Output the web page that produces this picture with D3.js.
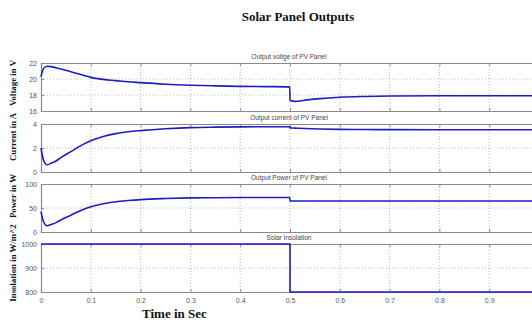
<!DOCTYPE html>
<html>
<head>
<meta charset="utf-8">
<script src="https://cdn.jsdelivr.net/npm/d3@7"></script>
<style>
  html, body { margin: 0; padding: 0; background: #fff; }
  svg { display: block; }
</style>
</head>
<body>
<svg id="chart" width="532" height="320"></svg>
<script>
// Simulation time samples (s)
const time = [0, 0.005, 0.012, 0.02, 0.03, 0.04, 0.06, 0.08, 0.1, 0.125, 0.15, 0.175, 0.2,
  0.25, 0.3, 0.35, 0.4, 0.45, 0.4995, 0.5, 0.51, 0.53, 0.56, 0.6, 0.65, 0.7, 0.8, 0.9, 1.0];

// PV panel output voltage (V)
const voltage = [20.3, 21.3, 21.6, 21.55, 21.4, 21.25, 20.9, 20.55, 20.2, 19.95, 19.8, 19.65, 19.55,
  19.35, 19.22, 19.14, 19.08, 19.05, 19.02, 17.3, 17.2, 17.35, 17.55, 17.72, 17.82, 17.87, 17.9, 17.9, 17.9];

// PV panel output current (A)
const current = [2.0, 1.0, 0.6, 0.72, 0.92, 1.2, 1.7, 2.2, 2.6, 2.95, 3.2, 3.35, 3.45,
  3.6, 3.7, 3.74, 3.76, 3.77, 3.77, 3.68, 3.66, 3.62, 3.58, 3.55, 3.54, 3.53, 3.52, 3.52, 3.52];

// PV panel output power (W)
const power = [42, 22, 13, 15.5, 19.5, 25, 35, 45, 52.5, 59, 63, 65.5, 67.5,
  69.7, 71, 71.5, 71.8, 71.9, 72, 64.5, 64.5, 64.5, 64.5, 64.5, 64.5, 64.5, 64.5, 64.5, 64.5];

// Solar insolation step (W/m^2)
const insolTime = [0, 0.5, 0.5, 1.0];
const insolation = [1000, 1000, 800, 800];

// Tick values (the 1.0 tick sits beyond the visible area)
const xTicks = [0, 0.1, 0.2, 0.3, 0.4, 0.5, 0.6, 0.7, 0.8, 0.9];
const xTickLabels = ["0", "0.1", "0.2", "0.3", "0.4", "0.5", "0.6", "0.7", "0.8", "0.9"];

const panels = [
  { title: "Output voltge of PV Panel", ylabel: "Voltage in V", domain: [16, 22], ticks: [16, 18, 20, 22], xs: time, ys: voltage },
  { title: "Output current of PV Panel", ylabel: "Current in A", domain: [0, 4], ticks: [0, 2, 4], xs: time, ys: current },
  { title: "Output Power of PV Panel", ylabel: "Power in W", domain: [0, 100], ticks: [0, 50, 100], xs: time, ys: power },
  { title: "Solar Insolation", ylabel: "Insolation in W/m^2", domain: [800, 1000], ticks: [800, 900, 1000], xs: insolTime, ys: insolation }
];

// Layout
const plotLeft = 41, plotRight = 539;
const panelTops = [63, 124, 184, 244];
const panelH = 48;
const labelCenters = [83, 137, 196, 263];
const lineColor = "#1d1dc6";
const frameColor = "#8a8a8a";
const gridColor = "#a8a8a8";

const svg = d3.select("#chart");

svg.append("text")
  .attr("x", 298).attr("y", 21)
  .attr("text-anchor", "middle")
  .attr("font-family", "Liberation Serif, Times New Roman, serif")
  .attr("font-weight", "bold")
  .attr("font-size", 13)
  .attr("fill", "#111")
  .text("Solar Panel Outputs");

const x = d3.scaleLinear().domain([0, 1]).range([plotLeft, plotRight]);

panels.forEach((p, i) => {
  const top = panelTops[i], bottom = top + panelH;
  const y = d3.scaleLinear().domain(p.domain).range([bottom, top]);
  const g = svg.append("g");

  // dotted grid
  g.append("g").selectAll("line")
    .data(xTicks.filter(t => t > 0))
    .join("line")
    .attr("x1", d => x(d)).attr("x2", d => x(d))
    .attr("y1", top).attr("y2", bottom)
    .attr("stroke", gridColor).attr("stroke-width", 0.8)
    .attr("stroke-dasharray", "1,2");
  g.append("g").selectAll("line")
    .data(p.ticks.slice(1, -1))
    .join("line")
    .attr("x1", plotLeft).attr("x2", plotRight)
    .attr("y1", d => y(d)).attr("y2", d => y(d))
    .attr("stroke", gridColor).attr("stroke-width", 0.8)
    .attr("stroke-dasharray", "1,2");

  // axes with inward ticks
  const fmt = d => String(d);
  const yAxis = d3.axisLeft(y).tickValues(p.ticks).tickSize(-3).tickPadding(4).tickFormat(fmt);
  const gy = g.append("g").attr("transform", `translate(${plotLeft},0)`).call(yAxis);
  const xBottom = d3.axisBottom(x).tickValues(xTicks).tickSize(-3).tickPadding(6)
    .tickFormat((d, k) => i === 3 ? xTickLabels[k] : "");
  const gx = g.append("g").attr("transform", `translate(0,${bottom})`).call(xBottom);
  const xTop = d3.axisTop(x).tickValues(xTicks).tickSize(-3).tickFormat("");
  const gt = g.append("g").attr("transform", `translate(0,${top})`).call(xTop);

  [gy, gx, gt].forEach(a => {
    a.select(".domain").attr("stroke", frameColor).attr("stroke-width", 1.2);
    a.selectAll(".tick line").attr("stroke", frameColor);
    a.selectAll(".tick text")
      .attr("font-family", "Liberation Sans, Arial, sans-serif")
      .attr("font-size", 7).attr("fill", "#555");
  });

  // series
  const line = d3.line()
    .x((d, k) => x(p.xs[k]))
    .y(d => y(d))
    .curve(i === 3 ? d3.curveLinear : d3.curveMonotoneX);
  g.append("path")
    .datum(p.ys)
    .attr("d", line)
    .attr("fill", "none")
    .attr("stroke", lineColor)
    .attr("stroke-width", 1.6);

  // panel title
  g.append("text")
    .attr("x", 289).attr("y", top - 4)
    .attr("text-anchor", "middle")
    .attr("font-family", "Liberation Sans, Arial, sans-serif")
    .attr("font-size", 6.5).attr("fill", "#444")
    .text(p.title);

  // y label
  g.append("text")
    .attr("transform", `translate(16,${labelCenters[i]}) rotate(-90)`)
    .attr("text-anchor", "middle")
    .attr("font-family", "Liberation Serif, Times New Roman, serif")
    .attr("font-weight", "bold")
    .attr("font-size", 8.8)
    .attr("fill", "#111")
    .text(p.ylabel);
});

svg.append("text")
  .attr("x", 142).attr("y", 318)
  .attr("font-family", "Liberation Serif, Times New Roman, serif")
  .attr("font-weight", "bold")
  .attr("font-size", 13)
  .attr("fill", "#111")
  .text("Time in Sec");
</script>
</body>
</html>
